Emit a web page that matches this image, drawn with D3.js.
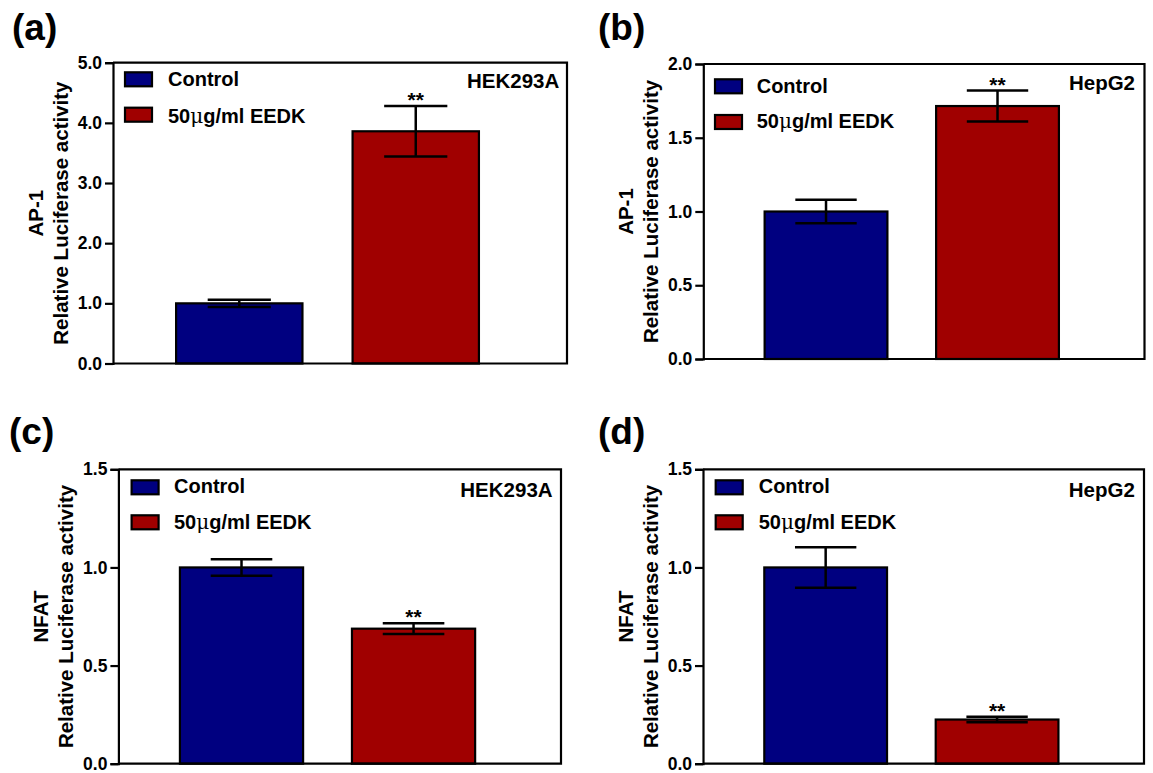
<!DOCTYPE html>
<html><head><meta charset="utf-8">
<script src="https://cdn.jsdelivr.net/npm/d3@7"></script>
<style>
body{margin:0;background:#fff;}
svg{display:block;font-family:"Liberation Sans",Arial,sans-serif;}
</style></head>
<body><svg id="c" width="1153" height="773"></svg>
<script>
// ---- data ----
const panelLabels = ["(a)", "(b)", "(c)", "(d)"];
const categories = ["Control", "50μg/ml EEDK"];
const cellLines = ["HEK293A", "HepG2", "HEK293A", "HepG2"];
const reporters = ["AP-1", "AP-1", "NFAT", "NFAT"];
const yTitle = "Relative Luciferase activity";
const meansA = [1.00, 3.86], errA = [0.06, 0.42];
const meansB = [1.00, 1.715], errB = [0.08, 0.105];
const meansC = [1.00, 0.688], errC = [0.042, 0.027];
const meansD = [1.00, 0.225], errD = [0.103, 0.014];
const ticksA = [0, 1, 2, 3, 4, 5];
const ticksB = [0, 0.5, 1.0, 1.5, 2.0];
const ticksC = [0, 0.5, 1.0, 1.5];
const ticksD = [0, 0.5, 1.0, 1.5];
const signif = ["", "**"];
const colors = ["#000080", "#a00000"];

const means = [meansA, meansB, meansC, meansD];
const errs = [errA, errB, errC, errD];
const ticks = [ticksA, ticksB, ticksC, ticksD];

// ---- layout ----
const frames = [
  {l:113, r:567, t:62.7, b:363.5, lx:12, ly:40},
  {l:703.3, r:1144.5, t:64, b:359, lx:598, ly:40},
  {l:118.4, r:561, t:469.3, b:763.7, lx:9, ly:444},
  {l:703, r:1144, t:469.3, b:763.7, lx:598, ly:444}
];
const legOff = [
  {sx:12, sy:[9.6, 45], tx:55, ty:[23.5, 60]},
  {sx:11.7, sy:[15.3, 51], tx:53.4, ty:[28.7, 64.3]},
  {sx:13.2, sy:[11, 46], tx:55.6, ty:[23.4, 59.4]},
  {sx:12.7, sy:[11, 46], tx:55.7, ty:[23.4, 59.4]}
];
const cellOff = [{dx:7.7, dy:25.6},{dx:9.5, dy:26},{dx:8.4, dy:27.4},{dx:9.2, dy:27.4}];

const svg = d3.select("#c");

frames.forEach((f, i) => {
  const g = svg.append("g");
  const w = f.r - f.l;
  const y = d3.scaleLinear().domain([0, d3.max(ticks[i])]).range([f.b, f.t]);
  const x = d3.scaleBand().domain(categories)
    .range([f.l + 0.139 * w, f.l + 0.806 * w]).paddingInner(0.284).paddingOuter(0);

  // panel label
  g.append("text").attr("x", f.lx).attr("y", f.ly)
    .attr("font-size", 37).attr("font-weight", "bold").text(panelLabels[i]);

  // bars
  g.selectAll("rect.bar").data(categories).join("rect")
    .attr("x", d => x(d)).attr("width", x.bandwidth())
    .attr("y", (d, j) => y(means[i][j]))
    .attr("height", (d, j) => y(0) - y(means[i][j]))
    .attr("fill", (d, j) => colors[j]).attr("stroke", "#000").attr("stroke-width", 2.2);

  // error bars
  const capW = x.bandwidth() * 0.5;
  categories.forEach((c, j) => {
    const cx = x(c) + x.bandwidth() / 2;
    const m = means[i][j], e = errs[i][j];
    const eg = g.append("g").attr("stroke", "#000").attr("stroke-width", 2.5);
    eg.append("line").attr("x1", cx).attr("x2", cx).attr("y1", y(m + e)).attr("y2", y(m - e));
    eg.append("line").attr("x1", cx - capW / 2).attr("x2", cx + capW / 2).attr("y1", y(m + e)).attr("y2", y(m + e));
    eg.append("line").attr("x1", cx - capW / 2).attr("x2", cx + capW / 2).attr("y1", y(m - e)).attr("y2", y(m - e));
    if (signif[j]) {
      g.append("text").attr("x", cx).attr("y", y(m + e) + 1).attr("text-anchor", "middle")
        .attr("font-size", 21).attr("font-weight", "bold").text(signif[j]);
    }
  });

  // frame (top & right)
  g.append("path").attr("d", `M${f.l},${f.t}H${f.r}V${f.b}H${f.l}`)
    .attr("fill", "none").attr("stroke", "#000").attr("stroke-width", 2.2);

  // y axis
  const ax = g.append("g").attr("transform", `translate(${f.l},0)`)
    .call(d3.axisLeft(y).tickValues(ticks[i]).tickFormat(d3.format(".1f")).tickSize(8).tickPadding(3));
  ax.selectAll("path,line").attr("stroke", "#000").attr("stroke-width", 2.2);
  ax.selectAll("text").attr("font-size", 17.5).attr("font-weight", "bold")
    .attr("font-family", "'Liberation Sans',Arial,sans-serif").attr("fill", "#000");

  // axis titles
  const cy = (f.t + f.b) / 2;
  g.append("text").attr("transform", `translate(${f.l - 70},${cy}) rotate(-90)`)
    .attr("text-anchor", "middle").attr("font-size", 20.5).attr("font-weight", "bold").text(reporters[i]);
  g.append("text").attr("transform", `translate(${f.l - 45},${cy}) rotate(-90)`)
    .attr("text-anchor", "middle").attr("font-size", 20.5).attr("font-weight", "bold").text(yTitle);

  // cell line label
  g.append("text").attr("x", f.r - cellOff[i].dx).attr("y", f.t + cellOff[i].dy)
    .attr("text-anchor", "end").attr("font-size", 20.5).attr("font-weight", "bold").text(cellLines[i]);

  // legend
  const lo = legOff[i];
  categories.forEach((c, j) => {
    g.append("rect").attr("x", f.l + lo.sx).attr("y", f.t + lo.sy[j]).attr("width", 27).attr("height", 14)
      .attr("fill", colors[j]).attr("stroke", "#000").attr("stroke-width", 2.2);
    const t = g.append("text").attr("x", f.l + lo.tx).attr("y", f.t + lo.ty[j])
      .attr("font-size", 20).attr("font-weight", "bold");
    if (c.includes("μ")) {
      const parts = c.split("μ");
      t.append("tspan").text(parts[0]);
      t.append("tspan").attr("font-weight", "normal").attr("font-family", "'DejaVu Serif',serif").text("μ");
      t.append("tspan").text(parts[1]);
    } else t.text(c);
  });
});
</script></body></html>
